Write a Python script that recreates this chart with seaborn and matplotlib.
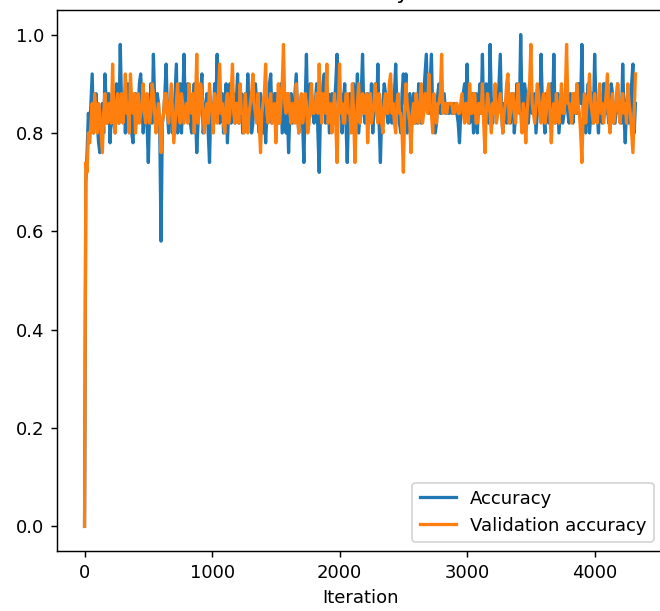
import numpy as np
import pandas as pd
import matplotlib
matplotlib.use("Agg")
import matplotlib.pyplot as plt
import seaborn as sns

# Logged every 10 iterations
step = 10

accuracy = [
    0.00, 0.70, 0.76, 0.84, 0.80, 0.86, 0.92, 0.80, 0.84, 0.88, 0.82, 0.78, 0.76, 0.84, 0.86, 0.80, 0.92, 0.86, 0.82, 0.88,
    0.78, 0.84, 0.86, 0.82, 0.80, 0.90, 0.88, 0.82, 0.98, 0.86, 0.84, 0.88, 0.80, 0.86, 0.90, 0.84, 0.86, 0.80, 0.78, 0.86,
    0.88, 0.82, 0.84, 0.90, 0.92, 0.86, 0.80, 0.84, 0.86, 0.82, 0.74, 0.84, 0.90, 0.82, 0.96, 0.86, 0.82, 0.88, 0.86, 0.80,
    0.58, 0.82, 0.84, 0.88, 0.94, 0.84, 0.80, 0.86, 0.88, 0.80, 0.82, 0.88, 0.94, 0.80, 0.86, 0.90, 0.80, 0.86, 0.96, 0.84,
    0.84, 0.90, 0.88, 0.82, 0.80, 0.86, 0.90, 0.84, 0.76, 0.82, 0.86, 0.88, 0.92, 0.80, 0.82, 0.86, 0.88, 0.80, 0.74, 0.86,
    0.86, 0.82, 0.90, 0.86, 0.96, 0.84, 0.82, 0.88, 0.88, 0.80, 0.84, 0.90, 0.78, 0.84, 0.90, 0.82, 0.86, 0.88, 0.82, 0.86,
    0.92, 0.82, 0.84, 0.88, 0.80, 0.86, 0.88, 0.82, 0.92, 0.84, 0.86, 0.80, 0.82, 0.88, 0.90, 0.86, 0.84, 0.80, 0.88, 0.84,
    0.80, 0.86, 0.78, 0.84, 0.86, 0.90, 0.92, 0.82, 0.84, 0.88, 0.88, 0.84, 0.82, 0.86, 0.90, 0.80, 0.84, 0.88, 0.80, 0.86,
    0.76, 0.84, 0.88, 0.82, 0.84, 0.88, 0.92, 0.84, 0.80, 0.86, 0.86, 0.82, 0.74, 0.86, 0.96, 0.82, 0.84, 0.90, 0.88, 0.84,
    0.82, 0.86, 0.90, 0.80, 0.72, 0.84, 0.86, 0.90, 0.92, 0.82, 0.84, 0.88, 0.80, 0.84, 0.88, 0.82, 0.86, 0.90, 0.96, 0.84,
    0.84, 0.88, 0.80, 0.86, 0.90, 0.82, 0.74, 0.84, 0.88, 0.82, 0.86, 0.90, 0.82, 0.86, 0.92, 0.80, 0.84, 0.88, 0.96, 0.84,
    0.82, 0.86, 0.88, 0.82, 0.84, 0.90, 0.80, 0.86, 0.90, 0.84, 0.94, 0.82, 0.74, 0.84, 0.86, 0.90, 0.88, 0.84, 0.82, 0.88,
    0.90, 0.82, 0.84, 0.88, 0.94, 0.84, 0.86, 0.82, 0.80, 0.88, 0.92, 0.86, 0.92, 0.80, 0.84, 0.88, 0.78, 0.86, 0.88, 0.82,
    0.86, 0.82, 0.90, 0.84, 0.82, 0.86, 0.88, 0.92, 0.96, 0.86, 0.84, 0.90, 0.96, 0.84, 0.86, 0.80, 0.82, 0.88, 0.90, 0.84,
    0.84, 0.86, 0.88, 0.84, 0.86, 0.84, 0.84, 0.86, 0.84, 0.84, 0.86, 0.84, 0.84, 0.82, 0.78, 0.84, 0.86, 0.88, 0.90, 0.86,
    0.94, 0.84, 0.82, 0.86, 0.88, 0.80, 0.84, 0.88, 0.80, 0.86, 0.90, 0.84, 0.96, 0.82, 0.84, 0.90, 0.86, 0.82, 0.98, 0.86,
    0.82, 0.86, 0.88, 0.84, 0.84, 0.90, 0.96, 0.84, 0.80, 0.86, 0.86, 0.82, 0.90, 0.84, 0.82, 0.88, 0.88, 0.80, 0.84, 0.90,
    0.86, 0.84, 1.00, 0.86, 0.84, 0.90, 0.88, 0.82, 0.82, 0.86, 0.90, 0.84, 0.86, 0.88, 0.80, 0.84, 0.88, 0.84, 0.96, 0.86,
    0.84, 0.80, 0.88, 0.84, 0.82, 0.86, 0.90, 0.84, 0.96, 0.82, 0.86, 0.88, 0.80, 0.84, 0.88, 0.82, 0.84, 0.86, 0.90, 0.84,
    0.82, 0.88, 0.86, 0.82, 0.88, 0.84, 0.84, 0.90, 0.90, 0.86, 0.98, 0.84, 0.84, 0.80, 0.86, 0.90, 0.80, 0.84, 0.88, 0.82,
    0.96, 0.86, 0.84, 0.80, 0.88, 0.86, 0.82, 0.90, 0.90, 0.84, 0.86, 0.82, 0.84, 0.90, 0.88, 0.82, 0.82, 0.86, 0.90, 0.84,
    0.86, 0.82, 0.94, 0.84, 0.78, 0.86, 0.88, 0.82, 0.84, 0.90, 0.94, 0.80, 0.86,
]

val_accuracy = [
    0.00, 0.74, 0.72, 0.80, 0.78, 0.82, 0.86, 0.80, 0.88, 0.84, 0.80, 0.86, 0.84, 0.80, 0.76, 0.84, 0.88, 0.82, 0.82, 0.86,
    0.86, 0.82, 0.94, 0.84, 0.80, 0.86, 0.88, 0.82, 0.84, 0.88, 0.82, 0.86, 0.92, 0.84, 0.86, 0.80, 0.92, 0.86, 0.84, 0.88,
    0.80, 0.84, 0.88, 0.82, 0.84, 0.86, 0.90, 0.84, 0.82, 0.88, 0.86, 0.82, 0.84, 0.90, 0.88, 0.84, 0.80, 0.84, 0.86, 0.82,
    0.76, 0.82, 0.84, 0.88, 0.88, 0.84, 0.82, 0.86, 0.90, 0.84, 0.78, 0.82, 0.86, 0.90, 0.84, 0.82, 0.88, 0.86, 0.82, 0.84,
    0.86, 0.82, 0.90, 0.86, 0.84, 0.88, 0.80, 0.86, 0.96, 0.82, 0.84, 0.90, 0.88, 0.84, 0.80, 0.84, 0.86, 0.82, 0.90, 0.86,
    0.84, 0.80, 0.88, 0.84, 0.82, 0.88, 0.94, 0.84, 0.86, 0.82, 0.80, 0.86, 0.88, 0.82, 0.84, 0.88, 0.94, 0.84, 0.82, 0.86,
    0.86, 0.82, 0.90, 0.84, 0.84, 0.80, 0.88, 0.84, 0.80, 0.84, 0.86, 0.88, 0.92, 0.86, 0.84, 0.82, 0.88, 0.82, 0.76, 0.84,
    0.86, 0.88, 0.94, 0.84, 0.82, 0.86, 0.88, 0.82, 0.84, 0.86, 0.78, 0.84, 0.90, 0.82, 0.86, 0.90, 0.98, 0.86, 0.84, 0.88,
    0.88, 0.84, 0.82, 0.86, 0.86, 0.82, 0.90, 0.84, 0.80, 0.86, 0.88, 0.82, 0.84, 0.88, 0.86, 0.80, 0.82, 0.86, 0.90, 0.84,
    0.84, 0.86, 0.88, 0.84, 0.94, 0.86, 0.82, 0.88, 0.86, 0.84, 0.94, 0.82, 0.84, 0.86, 0.80, 0.84, 0.88, 0.82, 0.74, 0.84,
    0.94, 0.84, 0.86, 0.82, 0.82, 0.88, 0.88, 0.84, 0.84, 0.80, 0.90, 0.84, 0.74, 0.82, 0.86, 0.90, 0.82, 0.86, 0.88, 0.84,
    0.84, 0.88, 0.78, 0.84, 0.88, 0.82, 0.84, 0.86, 0.90, 0.84, 0.82, 0.88, 0.86, 0.82, 0.80, 0.86, 0.88, 0.84, 0.84, 0.90,
    0.92, 0.84, 0.86, 0.82, 0.80, 0.86, 0.88, 0.84, 0.84, 0.80, 0.72, 0.84, 0.90, 0.86, 0.84, 0.82, 0.76, 0.84, 0.86, 0.82,
    0.88, 0.84, 0.82, 0.86, 0.90, 0.82, 0.84, 0.88, 0.86, 0.84, 0.92, 0.86, 0.84, 0.80, 0.88, 0.84, 0.82, 0.86, 0.86, 0.88,
    0.96, 0.84, 0.86, 0.86, 0.84, 0.86, 0.86, 0.86, 0.86, 0.84, 0.84, 0.86, 0.86, 0.84, 0.84, 0.86, 0.88, 0.84, 0.82, 0.86,
    0.86, 0.82, 0.90, 0.84, 0.84, 0.88, 0.88, 0.82, 0.82, 0.86, 0.86, 0.84, 0.90, 0.82, 0.76, 0.84, 0.88, 0.86, 0.84, 0.80,
    0.86, 0.84, 0.90, 0.82, 0.84, 0.86, 0.88, 0.84, 0.80, 0.84, 0.86, 0.90, 0.92, 0.82, 0.84, 0.88, 0.88, 0.84, 0.82, 0.86,
    0.90, 0.84, 0.84, 0.80, 0.86, 0.84, 0.78, 0.84, 0.88, 0.90, 0.98, 0.86, 0.84, 0.82, 0.86, 0.90, 0.88, 0.84, 0.82, 0.86,
    0.88, 0.82, 0.84, 0.88, 0.90, 0.84, 0.78, 0.84, 0.86, 0.82, 0.88, 0.84, 0.82, 0.86, 0.90, 0.84, 0.84, 0.88, 0.98, 0.86,
    0.86, 0.84, 0.82, 0.88, 0.88, 0.84, 0.90, 0.86, 0.84, 0.80, 0.74, 0.84, 0.88, 0.82, 0.86, 0.88, 0.92, 0.86, 0.84, 0.82,
    0.88, 0.84, 0.82, 0.86, 0.90, 0.84, 0.86, 0.82, 0.84, 0.88, 0.92, 0.84, 0.80, 0.86, 0.88, 0.82, 0.84, 0.86, 0.90, 0.84,
    0.82, 0.86, 0.88, 0.84, 0.86, 0.82, 0.90, 0.86, 0.84, 0.80, 0.76, 0.84, 0.92,
]

iterations = np.arange(len(accuracy)) * step

df = pd.DataFrame({
    "Iteration": iterations,
    "accuracy": accuracy,
    "val_accuracy": val_accuracy,
})

dpi = 130
fig = plt.figure(figsize=(660 / dpi, 611 / dpi), dpi=dpi)
ax = fig.add_axes([57 / 660, 60 / 611, 606 / 660, 541 / 611])

sns.lineplot(data=df, x="Iteration", y="accuracy", ax=ax,
             color="#1f77b4", linewidth=1.8, label="Accuracy")
sns.lineplot(data=df, x="Iteration", y="val_accuracy", ax=ax,
             color="#ff7f0e", linewidth=1.8, label="Validation accuracy")

ax.set_title("Accuracy")
ax.set_xlabel("Iteration")
ax.set_ylabel("")
ax.set_xticks([0, 1000, 2000, 3000, 4000])
ax.set_yticks([0.0, 0.2, 0.4, 0.6, 0.8, 1.0])
ax.legend(loc="lower right")

fig.savefig("out.png", dpi=dpi)
